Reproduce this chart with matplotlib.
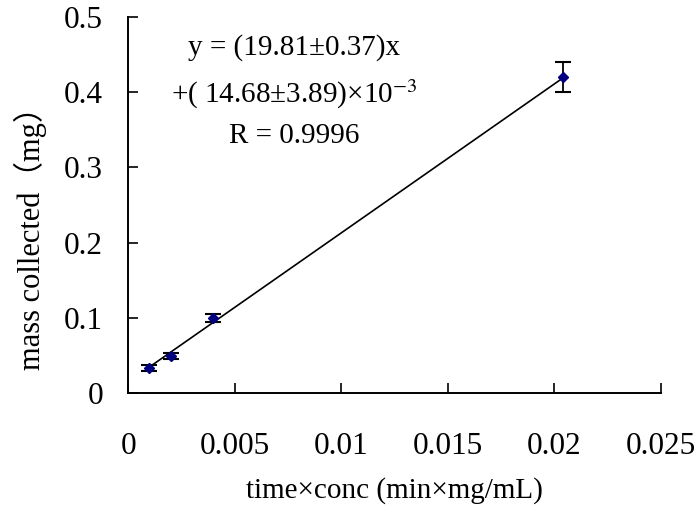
import numpy as np
import matplotlib.pyplot as plt
from matplotlib.ticker import FuncFormatter

# datos
conc_time = [0.001, 0.002, 0.004, 0.0204]
mass = [0.033, 0.049, 0.100, 0.420]
mass_err = [0.004, 0.004, 0.0055, 0.020]

# ajuste lineal reportado
slope = 19.81
intercept = 14.68e-3

plt.rcParams['font.family'] = ['Liberation Serif', 'Noto Sans CJK SC', 'DejaVu Sans']
plt.rcParams['mathtext.fontset'] = 'stix'

fig = plt.figure(figsize=(7, 5.15), dpi=100)
ax = fig.add_axes([0.183, 0.237, 0.761, 0.730])

x_fit = np.array([conc_time[0], conc_time[-1]])
ax.plot(x_fit, slope * x_fit + intercept, color='black', lw=1.2)
ax.errorbar(conc_time, mass, yerr=mass_err, fmt='D', color='#000080', ms=5.5,
            ecolor='black', elinewidth=1.3, capsize=5.5, capthick=1.5)

ax.set_xlim(0, 0.025)
ax.set_ylim(0, 0.5)
ax.set_xticks([0, 0.005, 0.01, 0.015, 0.02, 0.025])
ax.set_yticks([0, 0.1, 0.2, 0.3, 0.4, 0.5])
fmt = FuncFormatter(lambda v, p: '%g' % v)
ax.xaxis.set_major_formatter(fmt)
ax.yaxis.set_major_formatter(fmt)
ax.tick_params(direction='in', length=7.5, width=1.2, labelsize=22.5)
ax.tick_params(axis='x', pad=28)
ax.tick_params(axis='y', pad=18)

for s in ['top', 'right']:
    ax.spines[s].set_visible(False)
for s in ['left', 'bottom']:
    ax.spines[s].set_linewidth(1.4)

ax.set_xlabel('time×conc (min×mg/mL)', fontsize=21)
ax.set_ylabel('mass collected（mg）', fontsize=22)
ax.xaxis.set_label_coords(0.5, -0.225)
ax.yaxis.set_label_coords(-0.152, 0.431)

ax.text(0.311, 0.918, 'y = (19.81±0.37)x', transform=ax.transAxes,
        ha='center', va='center', fontsize=21)
ax.text(0.311, 0.793, r'+( 14.68±3.89)×10$^{-3}$', transform=ax.transAxes,
        ha='center', va='center', fontsize=21)
ax.text(0.311, 0.684, 'R = 0.9996', transform=ax.transAxes,
        ha='center', va='center', fontsize=21)

fig.savefig('out.png', dpi=100)
